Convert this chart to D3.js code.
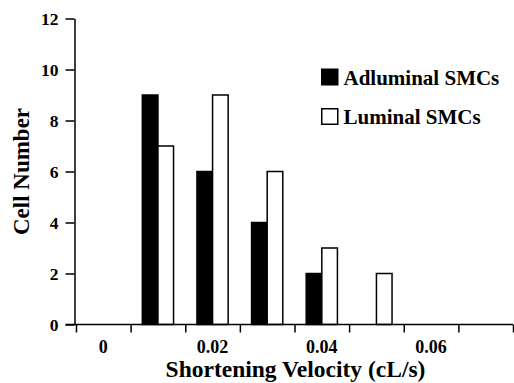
<!DOCTYPE html>
<html>
<head>
<meta charset="utf-8">
<script src="https://cdn.jsdelivr.net/npm/d3@7"></script>
<style>
  body { margin: 0; background: #fff; }
  svg { display: block; }
  text { font-family: "Liberation Serif", "Times New Roman", serif; font-weight: bold; fill: #000; }
</style>
</head>
<body>
<script>
// Data
const bins = ["0", "0.01", "0.02", "0.03", "0.04", "0.05", "0.06", "0.07"]
const adluminal = [0, 9, 6, 4, 2, 0, 0, 0]
const luminal = [0, 7, 9, 6, 3, 2, 0, 0]
const seriesNames = ["Adluminal SMCs", "Luminal SMCs"]
const seriesFill = ["#000", "#fff"]
const yTicks = [0, 2, 4, 6, 8, 10, 12]
const xLabels = ["0", "0.02", "0.04", "0.06"]

const width = 514
const height = 383
const margin = { top: 18.5, right: 1, bottom: 58.5, left: 74.5 }
const plotW = width - margin.left - margin.right
const plotH = height - margin.top - margin.bottom

const svg = d3.select("body")
  .append("svg")
  .attr("width", width)
  .attr("height", height)

const g = svg.append("g")
  .attr("transform", `translate(${margin.left},${margin.top})`)

// Scales
const x = d3.scaleBand().domain(bins).range([1.5, plotW]).padding(0)
const xInner = d3.scaleBand().domain(seriesNames).range([0, x.bandwidth()]).paddingInner(0).paddingOuter(0.75)
const xEdge = d3.scaleLinear().domain([0, bins.length]).range([1.5, plotW])
const y = d3.scaleLinear().domain([0, 12]).range([plotH, 0])

const rows = bins.map((b, i) => ({ bin: b, values: [adluminal[i], luminal[i]] }))

// Bars
const groups = g.append("g")
  .selectAll("g")
  .data(rows)
  .join("g")
  .attr("transform", d => `translate(${x(d.bin)},0)`)

groups.selectAll("rect")
  .data(d => d.values.map((v, k) => ({ key: seriesNames[k], value: v, fill: seriesFill[k] })).filter(d => d.value > 0))
  .join("rect")
  .attr("x", d => xInner(d.key))
  .attr("y", d => y(d.value))
  .attr("width", xInner.bandwidth())
  .attr("height", d => y(0) - y(d.value))
  .attr("fill", d => d.fill)
  .attr("stroke", "#000")
  .attr("stroke-width", 1.5)

// X axis: tick marks at bin edges
const xAxisG = g.append("g")
  .attr("transform", `translate(0,${plotH})`)
  .call(d3.axisBottom(xEdge).ticks(bins.length).tickFormat("").tickSizeOuter(0).tickSize(8))
xAxisG.select(".domain").attr("d", `M${-9},0H${plotW}`)

// X labels at bin centres
g.append("g")
  .attr("transform", `translate(0,${plotH})`)
  .call(d3.axisBottom(x).tickValues(xLabels).tickSize(0).tickPadding(15.5))
  .call(a => a.select(".domain").remove())
  .selectAll("text")
  .style("font-size", "18px")

// Y axis
const yAxisG = g.append("g")
  .call(d3.axisLeft(y).tickValues(yTicks).tickSize(9).tickSizeOuter(0).tickPadding(7))
yAxisG.selectAll("text").style("font-size", "17.5px")

svg.selectAll(".tick line, .domain")
  .attr("stroke", "#000")
  .attr("stroke-width", 1.5)

// Axis titles
svg.append("text")
  .attr("x", 295.5)
  .attr("y", 377)
  .attr("text-anchor", "middle")
  .style("font-size", "23.5px")
  .text("Shortening Velocity (cL/s)")

svg.append("text")
  .attr("transform", `translate(29,${margin.top + plotH / 2}) rotate(-90)`)
  .attr("text-anchor", "middle")
  .style("font-size", "23px")
  .text("Cell Number")

// Legend
const legend = svg.append("g")
  .selectAll("g")
  .data(seriesNames)
  .join("g")
  .attr("transform", (d, i) => `translate(321,${84.5 + i * 39.5})`)

legend.append("rect")
  .attr("x", 0.75)
  .attr("y", -15.25)
  .attr("width", 16)
  .attr("height", 15.5)
  .attr("fill", (d, i) => seriesFill[i])
  .attr("stroke", "#000")
  .attr("stroke-width", 1.5)

legend.append("text")
  .attr("x", 22.5)
  .attr("y", 0)
  .style("font-size", "21px")
  .text(d => d)
</script>
</body>
</html>
